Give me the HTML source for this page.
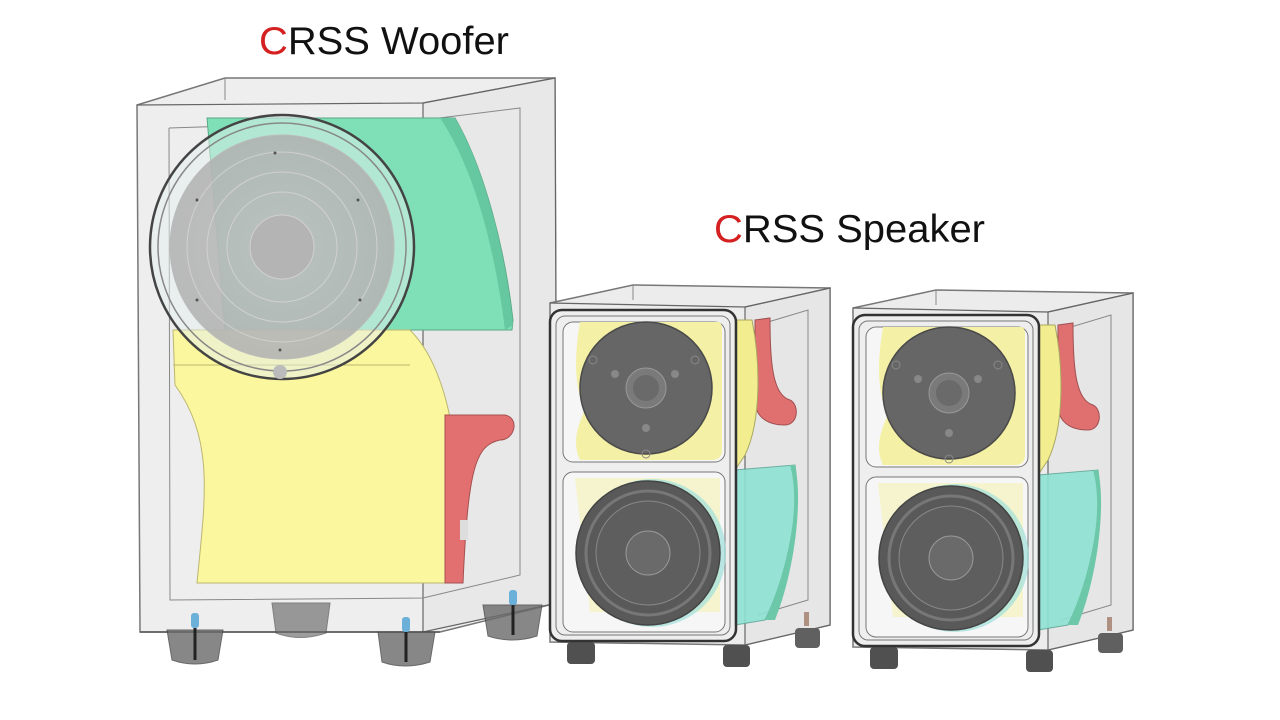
<!DOCTYPE html>
<html><head><meta charset="utf-8"><style>
html,body{margin:0;padding:0;background:#fff;}
svg{display:block}
text{font-family:"Liberation Sans",Arial,sans-serif;}
</style></head><body>
<svg width="1280" height="720" viewBox="0 0 1280 720" xmlns="http://www.w3.org/2000/svg">
<defs>
<radialGradient id="cone" cx="50%" cy="50%" r="50%"><stop offset="0" stop-color="#bcbcbc"/><stop offset="1" stop-color="#b0b0b0"/></radialGradient>
<g id="spk">
  <polygon points="550,303 633,285 830,288 830,625 745,645 550,642" fill="#ececec" stroke="#777" stroke-width="1.5"/>
  <polygon points="745,307 830,288 830,625 745,645" fill="#e6e6e6" stroke="#666" stroke-width="1.2"/>
  <polyline points="550,303 745,307 830,288" fill="none" stroke="#666" stroke-width="1.2"/>
  <line x1="633" y1="285" x2="633" y2="300" stroke="#888"/>
  <polyline points="758,325 808,310 808,600 758,615" fill="none" stroke="#888"/>
  <path d="M755,320 L770,318 C770,360 772,395 790,400 C800,405 798,425 785,425 C765,425 755,415 755,400 Z" fill="#e07070" stroke="#a05050" stroke-width="1"/>
  <path d="M735,320 L752,320 C760,360 762,420 745,455 L735,470 Z" fill="#f2ee90" stroke="#aaa860"/>
  <path d="M735,470 L795,465 C800,500 790,570 765,620 L735,625 Z" fill="#8ee3d4" stroke="#60a898" opacity="0.9"/>
  <path d="M790,465 C800,500 792,560 765,620 L775,620 C795,570 803,500 795,465Z" fill="#6cc8a8"/>
  <rect x="567" y="642" width="28" height="22" rx="4" fill="#505050"/>
  <rect x="723" y="645" width="27" height="22" rx="4" fill="#505050"/>
  <rect x="795" y="628" width="25" height="20" rx="4" fill="#606060"/>
  <rect x="804" y="612" width="5" height="14" fill="#b09080"/>
  <rect x="550" y="310" width="186" height="331" rx="12" fill="#f0f0f0" fill-opacity="0.6" stroke="#333" stroke-width="2.5"/>
  <rect x="556" y="316" width="174" height="319" rx="9" fill="none" stroke="#777" stroke-width="1"/>
  <rect x="563" y="322" width="162" height="140" rx="10" fill="#f6f6f6" stroke="#777"/>
  <path d="M580,322 L718,322 Q722,322 722,330 L722,450 Q722,460 712,460 L580,460 Q570,440 585,410 Q570,380 580,322Z" fill="#f4f1a6"/>
  <circle cx="646" cy="388" r="66" fill="#666" stroke="#4a4a4a" stroke-width="1.5"/>
  <circle cx="646" cy="388" r="20" fill="#7a7a7a" stroke="#999"/>
  <circle cx="646" cy="388" r="13" fill="#6a6a6a"/>
  <circle cx="615" cy="374" r="4" fill="#888"/><circle cx="675" cy="374" r="4" fill="#888"/><circle cx="646" cy="428" r="4" fill="#888"/>
  <circle cx="593" cy="360" r="4" fill="none" stroke="#888"/><circle cx="695" cy="360" r="4" fill="none" stroke="#888"/><circle cx="646" cy="454" r="4" fill="none" stroke="#888"/>
  <rect x="563" y="472" width="162" height="160" rx="10" fill="#f6f6f6" stroke="#777"/>
  <path d="M575,478 L720,478 L720,612 L590,612 Z" fill="#f4f1a6" opacity="0.5"/>
  <circle cx="652" cy="553" r="74" fill="#9fe0da" opacity="0.7"/>
  <circle cx="648" cy="553" r="72" fill="#595959" stroke="#444" stroke-width="1.5"/>
  <circle cx="648" cy="553" r="62" fill="none" stroke="#777" stroke-width="3"/>
  <circle cx="648" cy="553" r="52" fill="#5e5e5e" stroke="#888"/>
  <circle cx="648" cy="553" r="22" fill="#6a6a6a" stroke="#999"/>
</g>
</defs>

<polygon points="137,105 225,78 555,78 557,603 440,632 140,632" fill="#eeeeee" stroke="#777" stroke-width="1.5"/>
<polygon points="423,103 555,78 557,603 423,632" fill="#e8e8e8" stroke="#666" stroke-width="1.2"/>
<polyline points="137,105 423,103 555,78" fill="none" stroke="#666" stroke-width="1.2"/>
<line x1="225" y1="78" x2="225" y2="100" stroke="#888"/>
<polyline points="169,128 423,120 520,108 520,575 423,598 170,600 169,128" fill="none" stroke="#888"/>
<path d="M207,118 L455,118 C485,170 505,250 513,320 L512,330 L225,330 Z" fill="#7fe0b8" stroke="#5aa886"/>
<path d="M440,118 L455,118 C485,170 505,250 513,325 L505,330 C495,250 475,170 440,118Z" fill="#66c8a0"/>
<path d="M173,330 L410,330 C440,360 455,420 455,470 L448,583 L197,583 C205,500 215,440 175,385 Z" fill="#fbf79e" stroke="#bcb770"/>
<line x1="173" y1="365" x2="410" y2="365" stroke="#bcb770"/>
<path d="M445,415 L505,415 C520,418 515,440 500,440 C475,445 468,470 463,583 L445,583 Z" fill="#e37070" stroke="#a55050"/>
<rect x="460" y="520" width="8" height="20" fill="#ddd"/>
<circle cx="282" cy="247" r="132" fill="#e4eeee" fill-opacity="0.5" stroke="#444" stroke-width="2.5"/>
<circle cx="282" cy="247" r="124" fill="none" stroke="#888" stroke-width="1.5"/>
<circle cx="282" cy="247" r="112" fill="url(#cone)" fill-opacity="0.85" stroke="#bbb"/>
<circle cx="282" cy="247" r="95" fill="none" stroke="#d0d0d0"/>
<circle cx="282" cy="247" r="75" fill="none" stroke="#d0d0d0"/>
<circle cx="282" cy="247" r="55" fill="none" stroke="#d0d0d0"/>
<circle cx="282" cy="247" r="32" fill="#b4b4b4" stroke="#d0d0d0"/>
<circle cx="280" cy="372" r="7" fill="#bbb"/>
<circle cx="275" cy="153" r="1.5" fill="#555"/><circle cx="197" cy="200" r="1.5" fill="#555"/><circle cx="358" cy="200" r="1.5" fill="#555"/><circle cx="197" cy="300" r="1.5" fill="#555"/><circle cx="360" cy="300" r="1.5" fill="#555"/><circle cx="280" cy="350" r="1.5" fill="#555"/>
<line x1="140" y1="632" x2="440" y2="632" stroke="#555" stroke-width="1.5"/>
<g fill="#6a6a6a" stroke="#444">
<path d="M167,630 L223,630 L218,660 Q195,668 172,660 Z" opacity="0.8"/>
<path d="M272,603 L330,603 L326,633 Q300,642 276,633 Z" opacity="0.65"/>
<path d="M378,632 L435,632 L430,662 Q405,670 382,662 Z" opacity="0.8"/>
<path d="M483,605 L542,605 L537,636 Q512,644 488,636 Z" opacity="0.8"/>
</g>
<g fill="#6bb0d8"><rect x="191" y="613" width="8" height="15" rx="3"/><rect x="402" y="617" width="8" height="15" rx="3"/><rect x="509" y="590" width="8" height="15" rx="3"/></g>
<g stroke="#222" stroke-width="3"><line x1="195" y1="628" x2="195" y2="660"/><line x1="406" y1="632" x2="406" y2="662"/><line x1="513" y1="605" x2="513" y2="635"/></g>

<use href="#spk"/>
<use href="#spk" transform="translate(303,5)"/>

<text x="259" y="54" font-size="39" fill="#111" textLength="250" lengthAdjust="spacingAndGlyphs"><tspan fill="#d42020">C</tspan>RSS Woofer</text>
<text x="714" y="242" font-size="39" fill="#111" textLength="271" lengthAdjust="spacingAndGlyphs"><tspan fill="#d42020">C</tspan>RSS Speaker</text>
</svg>
</body></html>
